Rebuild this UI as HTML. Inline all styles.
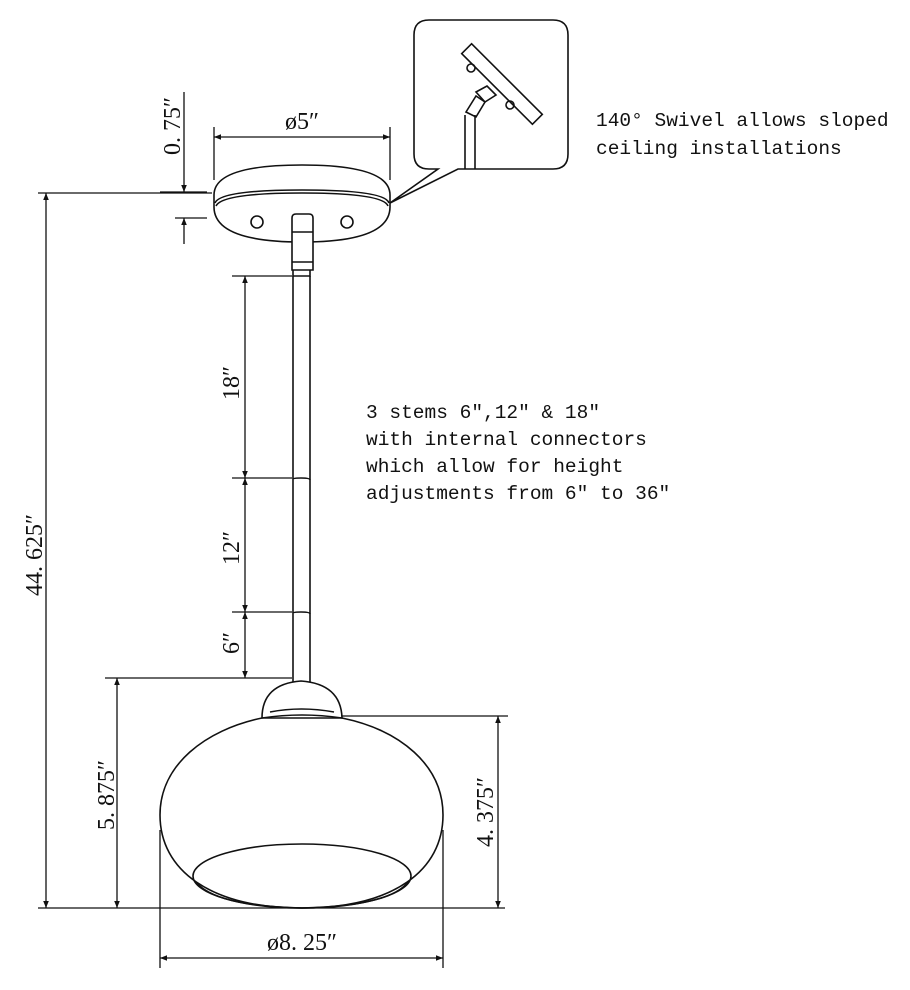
<!DOCTYPE html>
<html><head><style>
html,body{margin:0;padding:0;background:#fff;}
svg{display:block;}
text{font-family:"Liberation Serif","Liberation Mono",serif;fill:#111;}
.m{font-family:"Liberation Mono",monospace;font-size:19.5px;}
</style></head><body>
<svg width="910" height="990" viewBox="0 0 910 990" xmlns="http://www.w3.org/2000/svg">
<defs>
<marker id="a" viewBox="0 0 10 10" refX="10" refY="5" markerWidth="14" markerHeight="7" orient="auto-start-reverse" markerUnits="userSpaceOnUse"><path d="M0,1 L10,5 L0,9 z" fill="#111"/></marker>
</defs>
<g stroke="#111" stroke-width="1.6" fill="none">
<path d="M214,195 Q214,165 302,165 Q390,165 390,195 L390,207 Q390,242 302,242 Q214,242 214,207 Z" fill="#fff"/>
<path d="M215,203 Q220,190 302,190 Q385,190 389,203"/>
<path d="M216,206 Q222,193 302,193 Q383,193 388,206"/>
<circle cx="257" cy="222" r="6"/>
<circle cx="347" cy="222" r="6"/>
<path d="M292,218 Q292,214 296,214 L309,214 Q313,214 313,218 L313,270 L292,270 Z" fill="#fff"/>
<line x1="292" y1="232" x2="313" y2="232"/>
<line x1="292" y1="262" x2="313" y2="262"/>
<path d="M293,270 L293,276 L310,276 L310,270"/>
<line x1="293" y1="276" x2="293" y2="683"/>
<line x1="310" y1="276" x2="310" y2="683"/>
<path d="M293,479 Q293,478 301,478 Q310,478 310,480"/>
<path d="M293,613 Q293,612 301,612 Q310,612 310,614"/>
<path d="M262,718 Q262,684 301,681 Q341,684 342,718 Z" fill="#fff"/>
<path d="M270,712 Q301,706 334,712"/>
<path d="M262,718 C205,730 160,765 160,815 C160,870 210,908 302,908 C394,908 443,870 443,815 C443,765 400,730 342,718 Q302,712 262,718 Z"/>
<ellipse cx="302" cy="876" rx="109" ry="32"/>
<path d="M196,882 Q215,906 302,908 Q390,906 408,882"/>
<path d="M429,20 L553,20 Q568,20 568,35 L568,154 Q568,169 553,169 L458,169 L390,203 L438,169 L429,169 Q414,169 414,154 L414,35 Q414,20 429,20 Z" fill="#fff"/>
<g transform="translate(502,84) rotate(45)">
<rect x="-50" y="-7" width="100" height="14" fill="#fff"/>
</g>
<circle cx="471" cy="68" r="4"/>
<circle cx="510" cy="105" r="4"/>
<path d="M476,92 L487,86 L496,95 L485,102 Z" fill="#fff"/>
<path d="M466,112 L476,96 L485,102 L476,117 Z" fill="#fff"/>
<line x1="465" y1="115" x2="465" y2="169"/>
<line x1="475" y1="115" x2="475" y2="169"/>
</g>
<g stroke="#111" stroke-width="1.3" fill="none">
<line x1="214" y1="127" x2="214" y2="180"/>
<line x1="390" y1="127" x2="390" y2="180"/>
<line x1="214" y1="137" x2="390" y2="137" marker-start="url(#a)" marker-end="url(#a)"/>
<line x1="160" y1="192" x2="207" y2="192"/>
<line x1="175" y1="218" x2="207" y2="218"/>
<line x1="184" y1="92" x2="184" y2="192" marker-end="url(#a)"/>
<line x1="184" y1="244" x2="184" y2="218" marker-end="url(#a)"/>
<line x1="38" y1="193" x2="212" y2="193"/>
<line x1="46" y1="193" x2="46" y2="908" marker-start="url(#a)" marker-end="url(#a)"/>
<line x1="38" y1="908" x2="505" y2="908"/>
<line x1="232" y1="276" x2="292" y2="276"/>
<line x1="232" y1="478" x2="292" y2="478"/>
<line x1="232" y1="612" x2="292" y2="612"/>
<line x1="105" y1="678" x2="292" y2="678"/>
<line x1="245" y1="276" x2="245" y2="478" marker-start="url(#a)" marker-end="url(#a)"/>
<line x1="245" y1="478" x2="245" y2="612" marker-start="url(#a)" marker-end="url(#a)"/>
<line x1="245" y1="612" x2="245" y2="678" marker-start="url(#a)" marker-end="url(#a)"/>
<line x1="117" y1="678" x2="117" y2="908" marker-start="url(#a)" marker-end="url(#a)"/>
<line x1="342" y1="716" x2="508" y2="716"/>
<line x1="498" y1="716" x2="498" y2="908" marker-start="url(#a)" marker-end="url(#a)"/>
<line x1="160" y1="830" x2="160" y2="968"/>
<line x1="443" y1="830" x2="443" y2="968"/>
<line x1="160" y1="958" x2="443" y2="958" marker-start="url(#a)" marker-end="url(#a)"/>
</g>
<g font-size="24">
<text x="302" y="129" text-anchor="middle">ø5″</text>
<text x="302" y="950" text-anchor="middle">ø8. 25″</text>
<text transform="translate(180,126) rotate(-90)" text-anchor="middle">0. 75″</text>
<text transform="translate(42,555) rotate(-90)" text-anchor="middle">44. 625″</text>
<text transform="translate(114,795) rotate(-90)" text-anchor="middle">5. 875″</text>
<text transform="translate(493,812) rotate(-90)" text-anchor="middle">4. 375″</text>
<text transform="translate(239,383) rotate(-90)" text-anchor="middle">18″</text>
<text transform="translate(239,548) rotate(-90)" text-anchor="middle">12″</text>
<text transform="translate(239,643) rotate(-90)" text-anchor="middle">6″</text>
</g>
<text class="m" x="596" y="126">140° Swivel allows sloped</text>
<text class="m" x="596" y="154">ceiling installations</text>
<text class="m" x="366" y="418">3 stems 6″,12″ &amp; 18″</text>
<text class="m" x="366" y="445">with internal connectors</text>
<text class="m" x="366" y="472">which allow for height</text>
<text class="m" x="366" y="499">adjustments from 6″ to 36″</text>
</svg>
</body></html>
